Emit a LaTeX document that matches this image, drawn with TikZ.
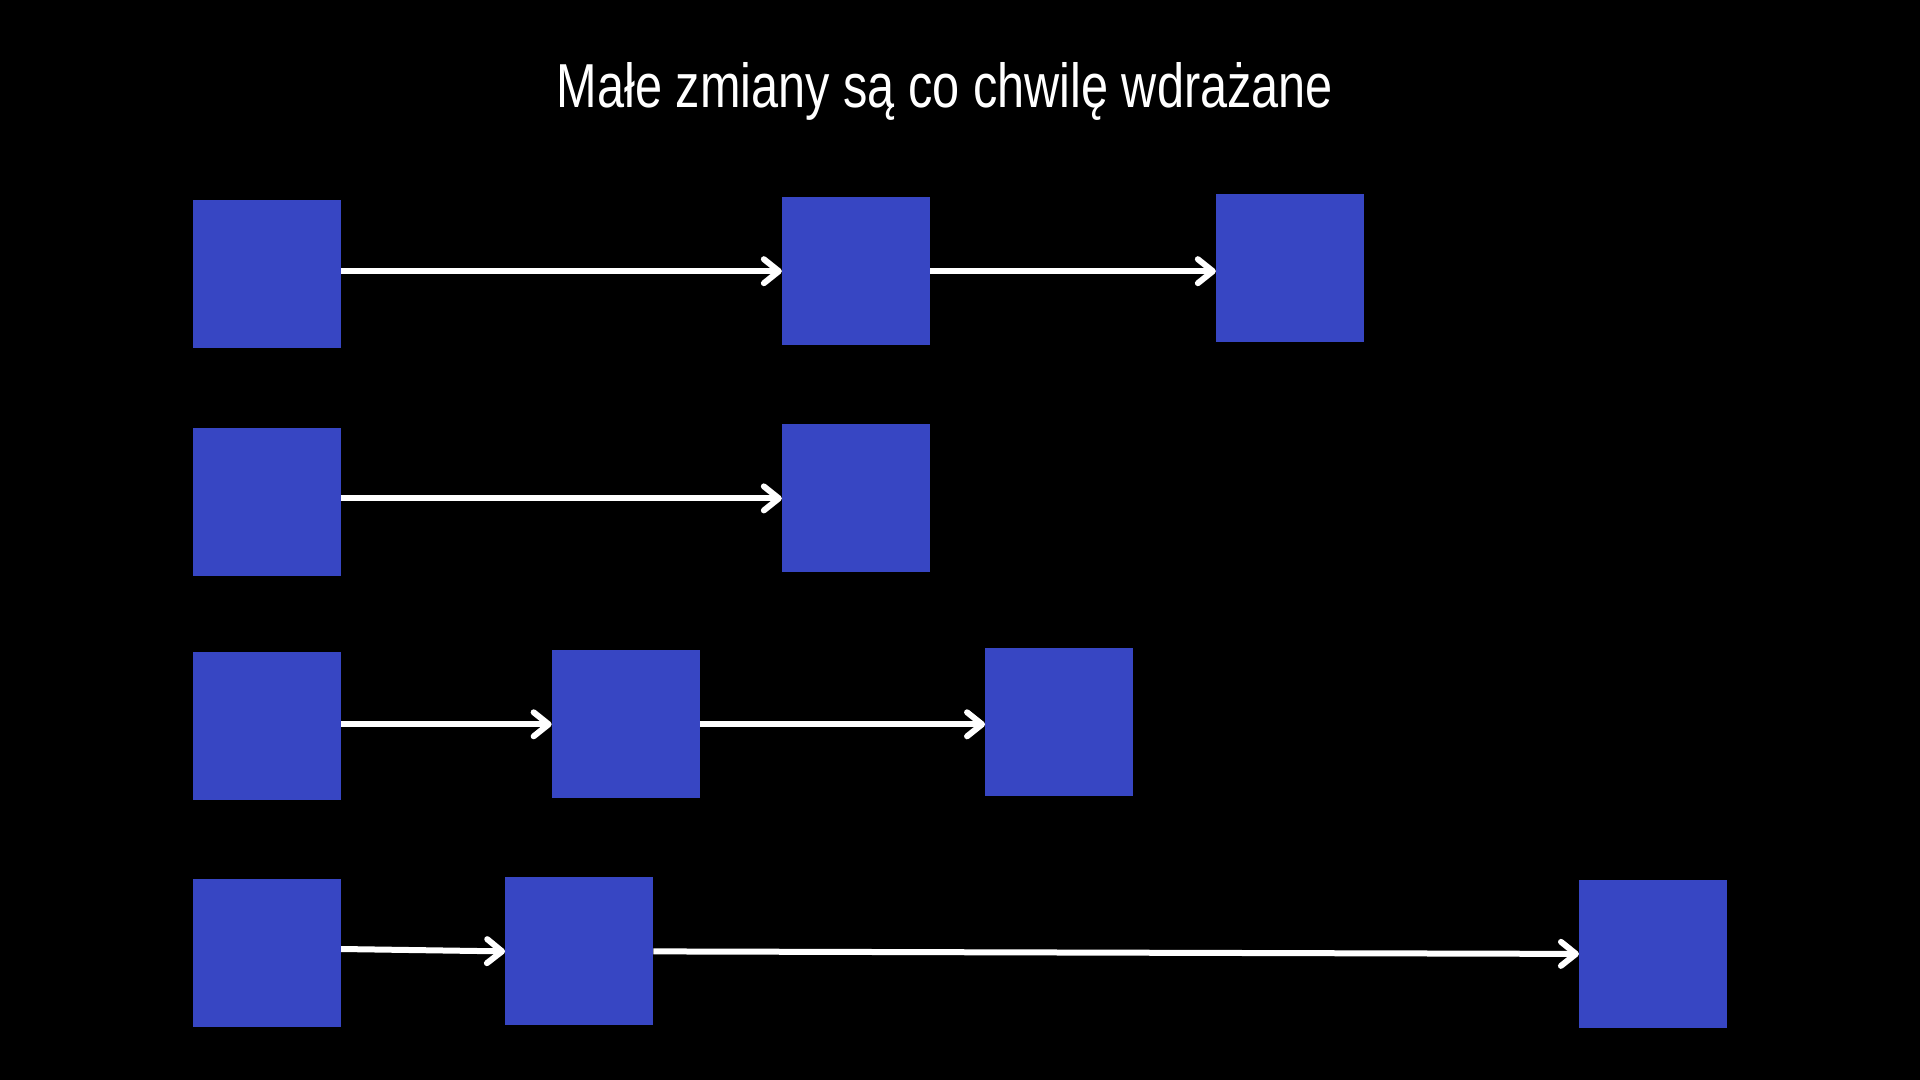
\documentclass[tikz,border=0pt]{standalone}
\usepackage{fontspec}
\setmainfont{Liberation Sans}
\usetikzlibrary{arrows.meta}
\definecolor{stepblue}{RGB}{55,70,195}
\tikzset{
  stepbox/.style={fill=stepblue, draw=none, minimum size=7.4cm, inner sep=0pt},
  flow/.style={draw=white, line width=0.3cm, line cap=butt,
    -{Straight Barb[round, length=0.75cm, width=1.2cm]}}
}
\begin{document}
\begin{tikzpicture}[x=0.05cm, y=-0.05cm]
  \fill[black] (0,0) rectangle (1920,1080);
  \node[anchor=base, text=white, inner sep=0pt] (title) at (945,107)
    {\resizebox{38.8cm}{2.25cm}{Małe zmiany są co chwilę wdrażane}};
  % row 1
  \node[stepbox] (r1a) at (267,274.3) {};
  \node[stepbox] (r1b) at (856,271.2) {};
  \node[stepbox] (r1c) at (1290,268.1) {};
  % row 2
  \node[stepbox] (r2a) at (267,501.5) {};
  \node[stepbox] (r2b) at (856,498.4) {};
  % row 3
  \node[stepbox] (r3a) at (267,725.5) {};
  \node[stepbox] (r3b) at (625.8,724.3) {};
  \node[stepbox] (r3c) at (1059.2,721.9) {};
  % row 4
  \node[stepbox] (r4a) at (267,952.6) {};
  \node[stepbox] (r4b) at (579.2,951.4) {};
  \node[stepbox] (r4c) at (1653.1,953.9) {};
  \draw[flow] (r1a.east |- r1b.west) -- (r1b.west);
  \draw[flow] (r1b.east) -- (r1b.east -| r1c.west);
  \draw[flow] (r2a.east |- r2b.west) -- (r2b.west);
  \draw[flow] (r3a.east |- r3b.west) -- (r3b.west);
  \draw[flow] (r3b.east) -- (r3b.east -| r3c.west);
  \draw[flow] ([yshift=0.18cm]r4a.east) -- (r4b.west);
  \draw[flow] (r4b.east) -- (r4c.west);
\end{tikzpicture}
\end{document}
